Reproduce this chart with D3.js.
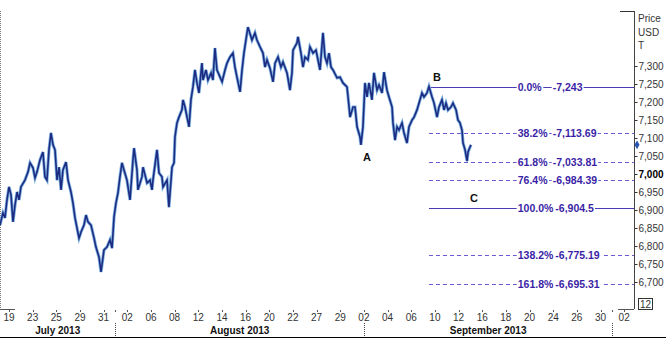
<!DOCTYPE html>
<html>
<head>
<meta charset="utf-8">
<script src="https://cdn.jsdelivr.net/npm/d3@7"></script>
<style>
	body { margin: 0; background: #fff; }
	svg { display: block; font-family: "Liberation Sans", Arial, sans-serif; }
</style>
</head>
<body>
<svg id="chart" width="666" height="339"></svg>
<script>
// trading sessions (UK calendar, 26 Aug bank holiday skipped), index 0 = 19 Jul
var sessions = [
	"2013-07-19","2013-07-22","2013-07-23","2013-07-24","2013-07-25","2013-07-26",
	"2013-07-29","2013-07-30","2013-07-31",
	"2013-08-01","2013-08-02","2013-08-05","2013-08-06","2013-08-07","2013-08-08",
	"2013-08-09","2013-08-12","2013-08-13","2013-08-14","2013-08-15","2013-08-16",
	"2013-08-19","2013-08-20","2013-08-21","2013-08-22","2013-08-23","2013-08-27",
	"2013-08-28","2013-08-29","2013-08-30",
	"2013-09-02","2013-09-03","2013-09-04","2013-09-05","2013-09-06","2013-09-09",
	"2013-09-10","2013-09-11","2013-09-12","2013-09-13","2013-09-16","2013-09-17",
	"2013-09-18","2013-09-19","2013-09-20","2013-09-23","2013-09-24","2013-09-25",
	"2013-09-26","2013-09-27","2013-09-30",
	"2013-10-01","2013-10-02"
];

var tickDates = [
	"2013-07-19","2013-07-23","2013-07-25","2013-07-29","2013-07-31",
	"2013-08-02","2013-08-06","2013-08-08","2013-08-12","2013-08-14","2013-08-16",
	"2013-08-20","2013-08-22","2013-08-27","2013-08-29",
	"2013-09-02","2013-09-04","2013-09-06","2013-09-10","2013-09-12","2013-09-16",
	"2013-09-18","2013-09-20","2013-09-24","2013-09-26","2013-09-30","2013-10-02"
];

var months = ["July 2013", "August 2013", "September 2013"];
var monthStarts = ["2013-08-01", "2013-09-02", "2013-10-01"];

// price path: time in sessions since 19 Jul, value in USD
var priceT = [
	-0.76,-0.51,-0.34,-0.17,0.00,0.17,0.34,0.51,0.68,0.85,1.01,1.35,1.61,1.78,2.03,2.20,
	2.37,2.62,2.87,3.04,3.21,3.38,3.55,3.72,3.89,4.06,4.23,4.40,4.56,4.82,4.99,5.24,
	5.41,5.58,5.75,5.92,6.09,6.34,6.51,6.68,6.93,7.19,7.35,7.61,7.78,8.03,8.28,8.54,
	8.71,8.88,9.04,9.21,9.38,9.55,9.72,9.97,10.23,10.48,10.57,10.82,10.90,11.24,11.33,11.67,
	11.92,12.09,12.17,12.51,12.68,12.93,13.02,13.36,13.52,13.78,13.95,14.03,14.20,14.37,14.62,14.71,
	14.88,15.05,15.22,15.38,15.55,15.72,15.89,16.06,16.31,16.40,16.65,16.82,17.08,17.24,17.41,17.58,
	17.84,18.01,18.26,18.43,18.68,18.93,19.10,19.27,19.53,19.70,19.86,20.12,20.20,20.54,20.79,20.96,
	21.22,21.47,21.64,21.81,22.06,22.32,22.49,22.74,22.99,23.16,23.50,23.75,23.92,24.01,24.34,24.43,
	24.68,24.85,25.02,25.27,25.44,25.70,25.95,26.29,26.54,26.71,26.88,27.05,27.22,27.39,27.73,27.98,
	28.23,28.57,28.66,28.83,29.08,29.25,29.42,29.50,29.67,29.75,29.92,30.09,30.26,30.43,30.68,30.85,
	31.11,31.28,31.53,31.70,31.95,32.12,32.38,32.46,32.63,32.80,32.97,33.22,33.39,33.64,33.81,34.07,
	34.24,34.49,34.66,34.91,35.08,35.33,35.50,35.76,35.93,36.18,36.35,36.60,36.77,36.94,37.11,37.36,
	37.53,37.79,37.95,38.12,38.29,38.38,38.55,38.72,38.80,38.97,39.05
];
var priceV = [
	6858,6892,6878,6928,6964,6942,6867,6914,6950,6928,6964,6983,7006,7031,7017,6989,
	7006,7039,7061,6992,6983,7067,7114,7081,7067,6983,7019,6956,7011,7033,6983,6950,
	6919,6878,6850,6822,6839,6858,6886,6867,6858,6822,6797,6769,6728,6789,6797,6817,
	6794,6881,6919,6947,6992,7031,7011,6983,6928,7039,7072,7011,6956,6992,7019,6975,
	6983,6956,6983,7067,7003,6992,6964,6983,6908,7019,7031,7103,7142,7158,7178,7206,
	7186,7158,7131,7206,7242,7289,7253,7225,7308,7261,7289,7261,7281,7261,7350,7289,
	7269,7256,7289,7308,7325,7336,7297,7269,7228,7289,7336,7392,7408,7372,7392,7372,
	7353,7336,7297,7317,7294,7256,7308,7325,7297,7311,7281,7233,7281,7344,7364,7381,
	7336,7297,7325,7317,7353,7336,7344,7289,7392,7325,7308,7336,7297,7289,7267,7269,
	7253,7242,7214,7158,7186,7186,7131,7122,7103,7081,7131,7253,7214,7253,7206,7281,
	7233,7247,7225,7283,7233,7214,7186,7142,7094,7131,7122,7142,7114,7086,7131,7150,
	7158,7178,7197,7225,7214,7225,7243,7214,7197,7158,7186,7206,7178,7197,7178,7186,
	7197,7178,7150,7142,7122,7086,7067,7036,7061,7075,7081
];

var yTicks = [6700,6750,6800,6850,6900,6950,7000,7050,7100,7150,7200,7250,7300];

// fibonacci levels drawn from B
var fibPct = [0, 38.2, 61.8, 76.4, 100, 138.2, 161.8];
var fibVal = [7243, 7113.69, 7033.81, 6984.39, 6904.5, 6775.19, 6695.31];
var fibStart = 35.5;
var fibLabelAt = 43;

var waveNames = ["A", "B", "C"];
var waveT = [30.26, 36.18, 39.31];
var waveV = [7047, 7269, 6933];

var W = 666, H = 339;
var svg = d3.select("#chart");

var idx = {};
sessions.forEach(function(s, i){ idx[s] = i; });

var xScale = d3.scaleLinear().domain([-0.76, 52.83]).range([0, 634]);
var yScale = d3.scaleLinear().domain([6625, 7452.8]).range([309, 11]);

var axisX = 634, plotBottom = 309;

// frame pieces
svg.append("line")
	.attr("x1", 0.5).attr("x2", 0.5).attr("y1", 11).attr("y2", plotBottom)
	.attr("stroke", "#777").attr("stroke-dasharray", "1,1");
svg.append("line")
	.attr("x1", 0).attr("x2", 15).attr("y1", plotBottom + 0.5).attr("y2", plotBottom + 0.5)
	.attr("stroke", "#555");
svg.append("line")
	.attr("x1", 618).attr("x2", axisX).attr("y1", plotBottom + 0.5).attr("y2", plotBottom + 0.5)
	.attr("stroke", "#555");
svg.append("line")
	.attr("x1", 620).attr("x2", axisX).attr("y1", 11.5).attr("y2", 11.5)
	.attr("stroke", "#333");

// fibonacci lines and labels
var fmt = d3.format(",");
var fibG = svg.append("g").attr("class", "fib");
fibPct.forEach(function(p, i){
	var y = Math.round(yScale(fibVal[i])) + 0.5;
	var solid = (p === 0 || p === 100);
	fibG.append("line")
		.attr("x1", xScale(fibStart)).attr("x2", axisX)
		.attr("y1", y).attr("y2", y)
		.attr("stroke", solid ? "#4a3cb4" : "#6a5ad0")
		.attr("stroke-width", 1)
		.attr("stroke-dasharray", solid ? null : "4,3");

	var lx = xScale(fibLabelAt);
	var t1 = fibG.append("text")
		.attr("x", lx).attr("y", y + 3.5)
		.attr("fill", "#3a1fa6")
		.style("font-size", "10.5px").style("font-weight", "bold")
		.text(d3.format(".1f")(p) + "%");
	var w1 = t1.node().getComputedTextLength();
	var t2 = fibG.append("text")
		.attr("x", Math.max(lx + 35, lx + w1 + 2)).attr("y", y + 3.5)
		.attr("fill", "#3a1fa6")
		.style("font-size", "10.5px").style("font-weight", "bold")
		.text("-" + fmt(fibVal[i]));
	[t1, t2].forEach(function(t){
		var b = t.node().getBBox();
		fibG.insert("rect", function(){ return t.node(); })
			.attr("x", b.x - 1).attr("y", b.y + 1)
			.attr("width", b.width + 2).attr("height", b.height - 2)
			.attr("fill", "#fff");
	});
});

// price path
var pts = priceT.map(function(t, i){ return [t, priceV[i]]; });
var line = d3.line()
	.x(d => xScale(d[0]))
	.y(d => yScale(d[1]));

svg.append("path")
	.datum(pts)
	.attr("d", line)
	.attr("fill", "none")
	.attr("stroke", "#7fb2e0")
	.attr("stroke-width", 3.2)
	.attr("stroke-linejoin", "miter");
svg.append("path")
	.datum(pts)
	.attr("d", line)
	.attr("fill", "none")
	.attr("stroke", "#1d2c82")
	.attr("stroke-width", 1.6);

// wave labels
svg.selectAll(".wave")
	.data(waveNames)
	.enter().append("text")
	.attr("class", "wave")
	.attr("x", (d, i) => xScale(waveT[i]))
	.attr("y", (d, i) => yScale(waveV[i]) + 4)
	.attr("text-anchor", "middle")
	.style("font-size", "11px").style("font-weight", "bold")
	.attr("fill", "#111")
	.text(d => d);

// right price axis
var yAxis = d3.axisRight(yScale)
	.tickValues(yTicks)
	.tickSize(3)
	.tickPadding(1)
	.tickFormat(fmt);
var ga = svg.append("g")
	.attr("transform", "translate(" + (axisX + 0.5) + ",0)")
	.call(yAxis);
ga.select(".domain").remove();
ga.selectAll("line").attr("stroke", "#333");
ga.selectAll("text")
	.attr("fill", "#333")
	.style("font-size", "10px")
	.style("font-family", "\"Liberation Sans\", Arial, sans-serif")
	.style("font-weight", d => d === 7000 ? "bold" : "normal")
	.attr("fill", d => d === 7000 ? "#000" : "#333");
svg.append("line")
	.attr("x1", axisX + 0.5).attr("x2", axisX + 0.5)
	.attr("y1", 11).attr("y2", plotBottom)
	.attr("stroke", "#444");

["Price", "USD", "T"].forEach(function(s, i){
	svg.append("text")
		.attr("x", 638).attr("y", 22 + i * 13.5)
		.attr("fill", "#333")
		.style("font-size", "10px")
		.text(s);
});

// last price marker
var lastV = priceV[priceV.length - 1];
svg.append("path")
	.attr("d", d3.symbol().type(d3.symbolDiamond).size(22))
	.attr("transform", "translate(" + (axisX + 3) + "," + yScale(lastV) + ")")
	.attr("fill", "#2a55b0");

// small box in the corner
svg.append("rect")
	.attr("x", 638.5).attr("y", 298.5).attr("width", 14).attr("height", 11)
	.attr("fill", "#fff").attr("stroke", "#333");
svg.append("text")
	.attr("x", 645.5).attr("y", 308)
	.attr("text-anchor", "middle")
	.attr("fill", "#333")
	.style("font-size", "10px")
	.text("12");

// date axis
var xg = svg.append("g").attr("class", "dateAxis");
xg.selectAll(".dtick")
	.data(tickDates.concat(monthStarts.slice(0, 1)).concat(monthStarts.slice(2)))
	.enter().append("line")
	.attr("x1", d => Math.round(xScale(idx[d])) + 0.5)
	.attr("x2", d => Math.round(xScale(idx[d])) + 0.5)
	.attr("y1", 310).attr("y2", 312)
	.attr("stroke", "#555");
xg.selectAll(".dlabel")
	.data(tickDates)
	.enter().append("text")
	.attr("x", d => xScale(idx[d]))
	.attr("y", 321)
	.attr("text-anchor", "middle")
	.attr("fill", "#333")
	.style("font-size", "10px")
	.text(d => d.slice(8));

var bounds = [0].concat(monthStarts.map(d => xScale(idx[d])));
xg.selectAll(".msep")
	.data(monthStarts)
	.enter().append("line")
	.attr("x1", d => Math.round(xScale(idx[d])) + 0.5)
	.attr("x2", d => Math.round(xScale(idx[d])) + 0.5)
	.attr("y1", 323).attr("y2", 337)
	.attr("stroke", "#444")
	.attr("stroke-dasharray", "1,1");
xg.selectAll(".mlabel")
	.data(months)
	.enter().append("text")
	.attr("x", (d, i) => (bounds[i] + bounds[i + 1]) / 2)
	.attr("y", 334)
	.attr("text-anchor", "middle")
	.attr("fill", "#111")
	.style("font-size", "10px").style("font-weight", "bold")
	.text(d => d);

svg.append("line")
	.attr("x1", 0).attr("x2", W).attr("y1", 337.5).attr("y2", 337.5)
	.attr("stroke", "#000").attr("stroke-width", 1.2);
</script>
</body>
</html>
